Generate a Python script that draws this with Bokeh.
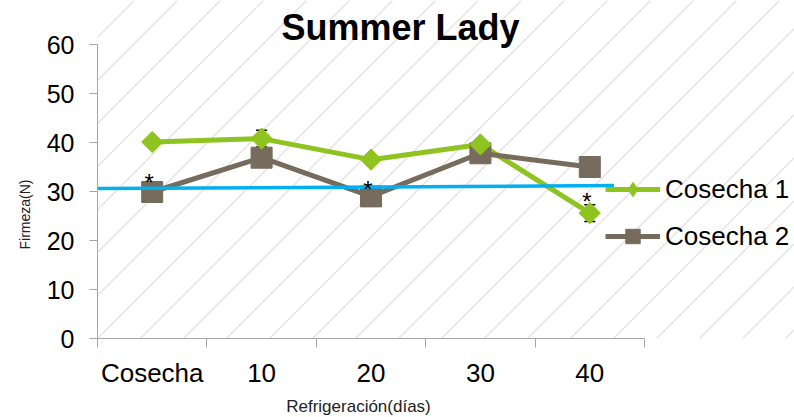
import math
from bokeh.plotting import figure
from bokeh.models import (ColumnDataSource, FixedTicker, Label, Legend, LegendItem,
                          Whisker, TeeHead, Range1d)
from bokeh.embed import file_html
from bokeh.resources import INLINE
from bokeh.core.properties import value

# ---------------- data ----------------
categories = ["Cosecha", "10", "20", "30", "40"]
cosecha1 = [40.1, 40.8, 36.5, 39.6, 25.6]
cosecha1_err = [0.6, 1.7, 0.6, 0.6, 1.7]
cosecha2 = [29.9, 36.9, 29.0, 37.8, 35.0]
cosecha2_err = [0.6, 0.6, 0.6, 0.6, 0.6]
sig_cats = ["Cosecha", "20", "40"]
sig_y = [32.6, 31.2, 28.7]
ref_x = [0.0, 4.72]
ref_y = [30.6, 31.2]
y_ticks = [0, 10, 20, 30, 40, 50, 60]

FONT = "Liberation Sans"
GREEN = "#8fc31f"
BROWN = "#766b5c"
BLUE = "#00b0f0"
AXIS = "#a6a6a6"
HATCH = "#e4e4e4"

# ---------------- geometry (pixels) ----------------
W, H = 794, 417
X0, XS = 97, 109.4      # frame left edge, pixels per category
Y0, YS = 338, 4.9       # y=0 pixel row, pixels per unit


def px_x(px):
    return (px - X0) / XS


def px_y(py):
    return (Y0 - py) / YS


centers = [i + 0.5 for i in range(len(categories))]
pos = {c: x for c, x in zip(categories, centers)}

src1 = ColumnDataSource(dict(x=centers, y=cosecha1,
                             lo=[v - e for v, e in zip(cosecha1, cosecha1_err)],
                             hi=[v + e for v, e in zip(cosecha1, cosecha1_err)]))
src2 = ColumnDataSource(dict(x=centers, y=cosecha2,
                             lo=[v - e for v, e in zip(cosecha2, cosecha2_err)],
                             hi=[v + e for v, e in zip(cosecha2, cosecha2_err)]))

# frame: left 97px, bottom at 338px; extends to the top and right edges of the canvas
p = figure(width=W, height=H, x_range=Range1d(0, px_x(W)), y_range=Range1d(0, px_y(0)),
           output_backend="svg", toolbar_location=None,
           min_border_left=X0, min_border_right=0, min_border_top=0, min_border_bottom=H - Y0)
p.grid.visible = False
p.outline_line_color = None
p.background_fill_color = "white"
p.border_fill_color = "white"

# diagonal background lines at 45 degrees (decoration)
hx0, hy0, hx1, hy1 = [], [], [], []
c = 5
while c < W + H + 43:
    hx0.append(px_x(c)); hy0.append(px_y(0))
    hx1.append(px_x(c - H)); hy1.append(px_y(H))
    c += 43
p.segment(hx0, hy0, hx1, hy1, line_color=HATCH, line_width=1.4, level="underlay")

# x axis: ticks between categories, labels at centers
p.xaxis.bounds = (0, len(categories))
p.xaxis.ticker = FixedTicker(ticks=centers, minor_ticks=list(range(len(categories) + 1)))
p.xaxis.major_label_overrides = {c: lab for c, lab in zip(centers, categories)}
p.xaxis.major_tick_line_color = None
p.xaxis.minor_tick_line_color = AXIS
p.xaxis.minor_tick_out = 9
p.xaxis.minor_tick_in = 0
p.xaxis.axis_line_color = AXIS
p.xaxis.major_label_text_font = FONT
p.xaxis.major_label_text_font_size = "26px"
p.xaxis.major_label_text_color = "black"
p.xaxis.major_label_standoff = 10

p.yaxis.bounds = (0, 60)
p.yaxis.ticker = FixedTicker(ticks=y_ticks, minor_ticks=[])
p.yaxis.major_tick_out = 8
p.yaxis.major_tick_in = 0
p.yaxis.major_tick_line_color = AXIS
p.yaxis.axis_line_color = AXIS
p.yaxis.major_label_text_font = FONT
p.yaxis.major_label_text_font_size = "25px"
p.yaxis.major_label_text_color = "black"
p.yaxis.major_label_standoff = 15

# error bars (under markers)
for src in (src1, src2):
    w = Whisker(base="x", lower="lo", upper="hi", source=src, dimension="height",
                line_color="black", line_width=1.5,
                upper_head=TeeHead(size=11, line_color="black", line_width=1.5),
                lower_head=TeeHead(size=11, line_color="black", line_width=1.5),
                level="underlay")
    p.add_layout(w)

l1 = p.line("x", "y", source=src1, line_color=GREEN, line_width=5)
l2 = p.line("x", "y", source=src2, line_color=BROWN, line_width=5)
s2 = p.scatter("x", "y", source=src2, marker="square", size=21,
               fill_color=BROWN, line_color=BROWN)
s1 = p.scatter("x", "y", source=src1, marker="square", size=15, angle=math.pi / 4,
               fill_color=GREEN, line_color=GREEN)
# diamond used only for the legend swatch
s1_leg = p.scatter("x", "y", source=src1, marker="diamond", size=20,
                   fill_color=GREEN, line_color=GREEN, visible=False)

# reference line
p.line(ref_x, ref_y, line_color=BLUE, line_width=3.5)

# significance asterisks
p.text(x=[pos[c] for c in sig_cats], y=sig_y, text=["*"] * len(sig_cats),
       text_font=value(FONT), text_font_size="24px", text_color="black",
       text_align="center", text_baseline="middle", x_offset=-3, y_offset=4)

legend = Legend(items=[LegendItem(label="Cosecha 1", renderers=[l1, s1_leg]),
                       LegendItem(label="Cosecha 2", renderers=[l2, s2])],
                location=(605 - X0, Y0 - 236 - 18), orientation="vertical",
                glyph_width=55, glyph_height=36, label_height=36, spacing=11,
                padding=0, margin=0, label_standoff=5,
                border_line_color=None, background_fill_alpha=0,
                label_text_font=FONT, label_text_font_size="26px", label_text_color="black")
p.add_layout(legend)

# title (inside the enlarged frame)
p.add_layout(Label(x=px_x(400), y=px_y(27), text="Summer Lady", text_font=FONT,
                   text_font_style="bold", text_font_size="36px", text_color="black",
                   text_align="center", text_baseline="middle"))
# axis titles placed in the side panels
p.add_layout(Label(x=px_x(358), y=px_y(406), text="Refrigeración(días)", text_font=FONT,
                   text_font_size="17px", text_color="#222222",
                   text_align="center", text_baseline="middle"), "below")
p.add_layout(Label(x=px_x(24), y=px_y(214), text="Firmeza(N)", text_font=FONT, angle=math.pi / 2,
                   text_font_size="14px", text_color="#222222",
                   text_align="center", text_baseline="middle"), "left")

open("out.html", "w").write(file_html(p, INLINE))
